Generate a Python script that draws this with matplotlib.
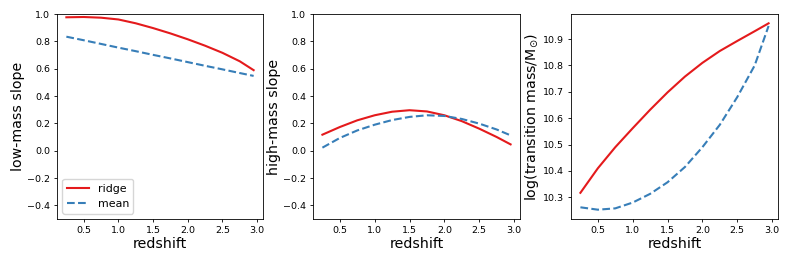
import matplotlib
matplotlib.use("Agg")
import matplotlib.pyplot as plt

z = [0.25, 0.5, 0.75, 1.0, 1.25, 1.5, 1.75, 2.0, 2.25, 2.5, 2.75, 2.95]

low_ridge = [0.976, 0.978, 0.973, 0.960, 0.932, 0.897, 0.858, 0.815, 0.768, 0.716, 0.654, 0.589]
low_mean = [0.834, 0.808, 0.781, 0.754, 0.728, 0.701, 0.675, 0.648, 0.621, 0.595, 0.568, 0.547]

high_ridge = [0.117, 0.173, 0.222, 0.259, 0.285, 0.296, 0.287, 0.259, 0.216, 0.161, 0.100, 0.046]
high_mean = [0.022, 0.093, 0.148, 0.190, 0.224, 0.247, 0.259, 0.254, 0.232, 0.198, 0.155, 0.112]

tm_ridge = [10.317, 10.410, 10.490, 10.562, 10.632, 10.698, 10.758, 10.810, 10.855, 10.893, 10.930, 10.960]
tm_mean = [10.262, 10.253, 10.258, 10.280, 10.313, 10.357, 10.415, 10.490, 10.575, 10.680, 10.800, 10.950]

red = '#e41a1c'
blue = '#377eb8'

fig = plt.figure(figsize=(7.89, 2.63), dpi=100)
W, H = 789, 263
boxes = [(57, 14, 263, 219), (313, 14, 520, 219), (571, 14, 778, 219)]
axes = []
for (l, t, r, b) in boxes:
    axes.append(fig.add_axes([l / W, (H - b) / H, (r - l) / W, (b - t) / H]))

data = [(low_ridge, low_mean, 'low-mass slope'),
        (high_ridge, high_mean, 'high-mass slope'),
        (tm_ridge, tm_mean, r'log(transition mass/M$_{\odot}$)')]

for i, (ax, (r, m, lab)) in enumerate(zip(axes, data)):
    ax.plot(z, r, color=red, lw=1.5, label='ridge')
    ax.plot(z, m, color=blue, lw=1.5, ls='--', label='mean')
    ax.set_xlabel('redshift', fontsize=10.2, labelpad=1.5)
    ax.set_ylabel(lab, fontsize=10.2, labelpad=1.2)
    ax.tick_params(labelsize=6.8, length=2.5, pad=2.5, width=0.6)
    for s in ax.spines.values():
        s.set_linewidth(0.6)
    ax.set_xticks([0.5, 1.0, 1.5, 2.0, 2.5, 3.0])
    if i < 2:
        ax.set_ylim(-0.5, 1.0)
    else:
        ax.set_yticks([10.3, 10.4, 10.5, 10.6, 10.7, 10.8, 10.9])

axes[0].legend(loc='lower left', fontsize=7.9)

fig.savefig('out.png', dpi=100)
